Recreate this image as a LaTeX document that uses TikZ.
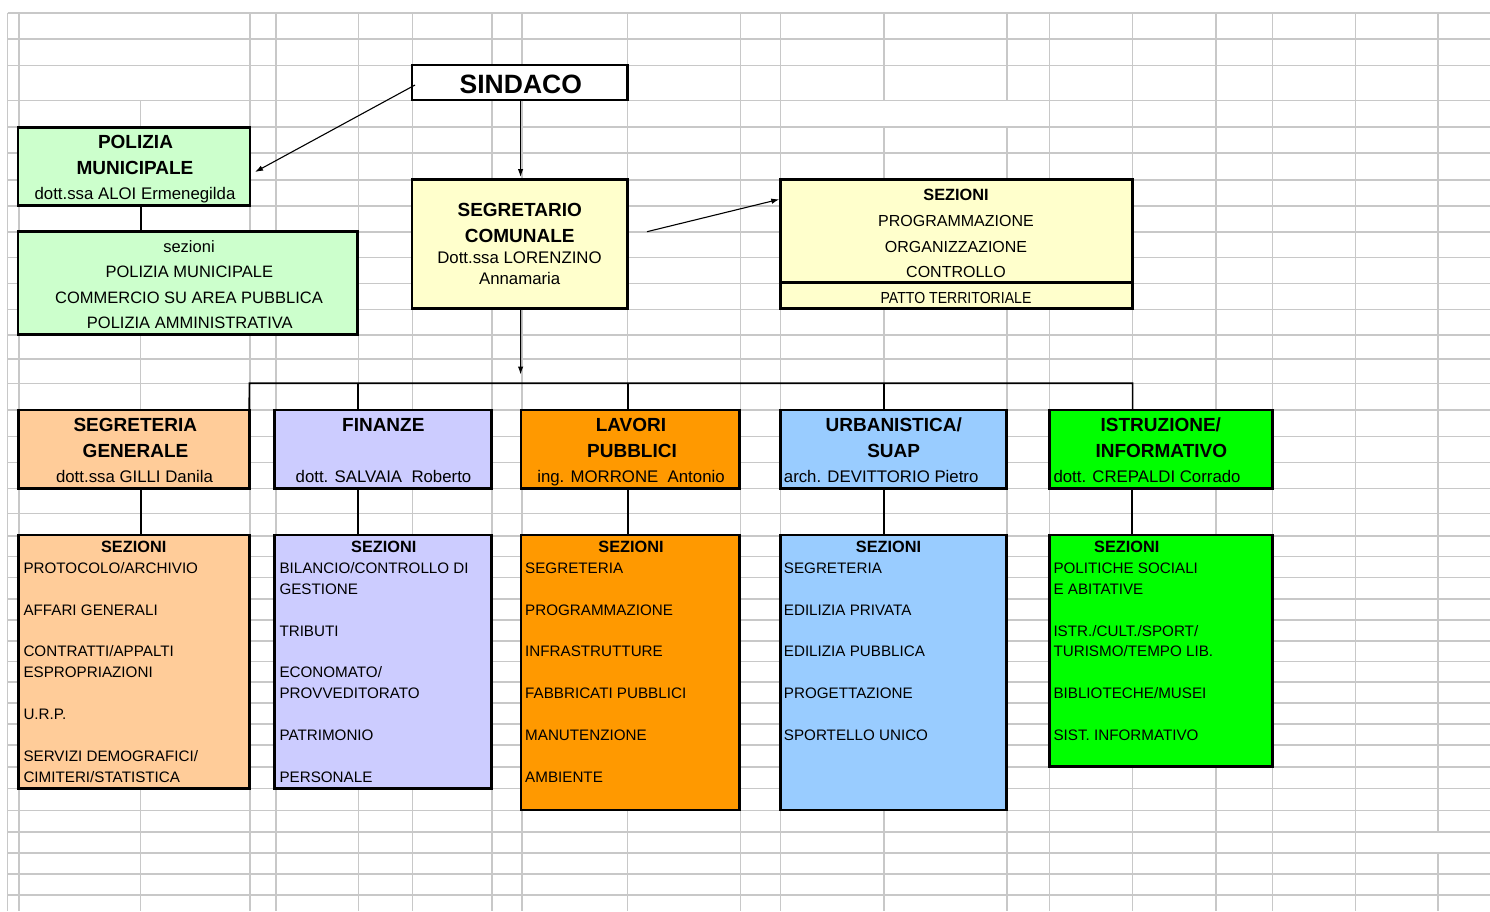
\documentclass[tikz,border=0pt]{standalone}
\usepackage{fontspec}
\setmainfont{Liberation Sans}
\usetikzlibrary{arrows.meta,calc}
\definecolor{gridc}{RGB}{200,200,200}
\definecolor{cPol}{HTML}{CCFFCC}
\definecolor{cYel}{HTML}{FFFFCC}
\definecolor{cSeg}{HTML}{FFCC99}
\definecolor{cFin}{HTML}{CCCCFF}
\definecolor{cLav}{HTML}{FF9900}
\definecolor{cUrb}{HTML}{99CCFF}
\definecolor{cIst}{HTML}{00FF00}
\newcommand{\fSin}{\fontsize{26.5}{30}\selectfont\bfseries}
\newcommand{\fTit}{\fontsize{19}{22}\selectfont\bfseries}
\newcommand{\fNam}{\fontsize{16.8}{20}\selectfont}
\newcommand{\fPol}{\fontsize{16.5}{20}\selectfont}
\newcommand{\fHd}{\fontsize{16.3}{19}\selectfont\bfseries}
\newcommand{\fRt}{\fontsize{16}{19}\selectfont}
\newcommand{\fIt}{\fontsize{15.2}{18}\selectfont}
\newcommand{\itm}[4]{\node[tl,font=\fIt] (#1) at (#2,{573.3+20.9*#3}) {#4};}
\begin{document}
\begin{tikzpicture}[x=1pt,y=-1pt,
  gridl/.style={draw=gridc, line width=1.4pt},
  box/.style={draw=black, line width=2.5pt, rectangle, inner sep=0pt, outer sep=0pt},
  conn/.style={draw=black, line width=1.7pt},
  arr/.style={draw=black, line width=1.1pt, -{Latex[length=8pt,width=5.5pt]}},
  tc/.style={inner sep=0pt, anchor=base},
  tl/.style={inner sep=0pt, anchor=base west}]
\useasboundingbox (0,0) rectangle (1490,911);
\fill[white] (0,0) rectangle (1490,911);
% spreadsheet grid
\foreach \y in {12.8,39,65.7,100.3,127,153,180,206,232,257.5,283.5,309.5,335,359,383.5,410,436.7,462.5,488.3,513.5,536,556.5,577.5,599,620,641,661.7,682,703,724,745,767,788.5,810.7,832,853,874,895}
  \draw[gridl] (7.5,\y) -- (1490,\y);
\foreach \x in {7.5,19,250,276,358.3,412.5,492,521.8,627.7,740.3,780.7,1049.5,1132.3,1216,1272.3,1355.2}
  \draw[gridl] (\x,12.8) -- (\x,911);
\draw[gridl] (140.7,100.3) -- (140.7,911);
\foreach \x in {884,1007} {\draw[gridl] (\x,12.8) -- (\x,100.3); \draw[gridl] (\x,127) -- (\x,911);}
\draw[gridl] (1437.8,12.8) -- (1437.8,832);
\draw[gridl] (1437.8,853) -- (1437.8,911);

% boxes
\node[box, fill=white, minimum width=215.5pt, minimum height=35pt] (sindaco) at (519.75,82.5) {};
\node[box, fill=cPol, minimum width=232pt, minimum height=78.4pt] (polizia) at (134,166.5) {};
\node[box, fill=cPol, minimum width=339.3pt, minimum height=102.6pt] (polsez) at (187.65,283) {};
\node[box, fill=cYel, minimum width=215.5pt, minimum height=128.8pt] (segretario) at (519.75,243.9) {};
\node[box, fill=cYel, minimum width=352pt, minimum height=128.8pt] (sezR) at (956.5,243.9) {};
\coordinate (dv) at (0,282.5);
\draw[line width=2.5pt] (sezR.west |- dv) -- (sezR.east |- dv);

\node[box, fill=cSeg, minimum width=231pt, minimum height=78.3pt] (dSeg) at (133.8,449.15) {};
\node[box, fill=cFin, minimum width=217.2pt, minimum height=78.3pt] (dFin) at (383.1,449.15) {};
\node[box, fill=cLav, minimum width=218.3pt, minimum height=78.3pt] (dLav) at (630.15,449.15) {};
\node[box, fill=cUrb, minimum width=225.8pt, minimum height=78.3pt] (dUrb) at (893.6,449.15) {};
\node[box, fill=cIst, minimum width=223pt, minimum height=78.3pt] (dIst) at (1160.8,449.15) {};

\node[box, fill=cSeg, minimum width=231pt, minimum height=253.3pt] (sSeg) at (133.8,661.65) {};
\node[box, fill=cFin, minimum width=217.2pt, minimum height=253.3pt] (sFin) at (383.1,661.65) {};
\node[box, fill=cLav, minimum width=218.3pt, minimum height=275pt] (sLav) at (630.15,672.5) {};
\node[box, fill=cUrb, minimum width=225.8pt, minimum height=275pt] (sUrb) at (893.6,672.5) {};
\node[box, fill=cIst, minimum width=223pt, minimum height=231.7pt] (sIst) at (1160.8,650.85) {};

% connectors
\coordinate (a1e) at (255,172);
\draw[arr] ([shift={(3pt,-2.5pt)}]sindaco.west) -- (a1e);
\draw[arr, shorten >=2.5pt] ([xshift=0.8pt]sindaco.south) -- ([xshift=0.8pt]segretario.north);
\coordinate (a3s) at (647,231.7);
\coordinate (a3e) at (779.3,199.3);
\draw[arr] (a3s) -- (a3e);
\coordinate (a4e) at (520.6,374.5);
\draw[arr] ([xshift=0.8pt]segretario.south) -- (a4e);
\coordinate (bL) at (249.4,383.3);
\coordinate (bR) at (1132.6,383.3);
\draw[conn] (dSeg.north east) -- (bL) -- (bR) -- (bR |- dIst.north);
\coordinate (jFin) at (358,383.3);
\coordinate (jLav) at (627.8,383.3);
\coordinate (jUrb) at (884,383.3);
\draw[conn] (jFin) -- (jFin |- dFin.north);
\draw[conn] (jLav) -- (jLav |- dLav.north);
\draw[conn] (jUrb) -- (jUrb |- dUrb.north);
\coordinate (kPol) at (140.7,0);
\coordinate (kSeg) at (140.7,0);
\coordinate (kFin) at (358.2,0);
\coordinate (kLav) at (627.8,0);
\coordinate (kUrb) at (884,0);
\coordinate (kIst) at (1132,0);
\draw[conn] (kPol |- polizia.south) -- (kPol |- polsez.north);
\draw[conn] (kSeg |- dSeg.south) -- (kSeg |- sSeg.north);
\draw[conn] (kFin |- dFin.south) -- (kFin |- sFin.north);
\draw[conn] (kLav |- dLav.south) -- (kLav |- sLav.north);
\draw[conn] (kUrb |- dUrb.south) -- (kUrb |- sUrb.north);
\draw[conn] (kIst |- dIst.south) -- (kIst |- sIst.north);

% texts top
\node[tc, font=\fSin] (tSin) at (520.8,93.3) {SINDACO};
\node[tc, font=\fTit] (tPol1) at (135.5,148.3) {POLIZIA};
\node[tc, font=\fTit] (tPol2) at (135,174) {MUNICIPALE};
\node[tc, font=\fNam] (tPol3) at (135,199) {dott.ssa ALOI Ermenegilda};
\node[tc, font=\fPol] (tPs1) at (189,252.3) {sezioni};
\node[tc, font=\fPol] (tPs2) at (189.3,277.3) {POLIZIA MUNICIPALE};
\node[tc, font=\fPol] (tPs3) at (189,303.3) {COMMERCIO SU AREA PUBBLICA};
\node[tc, font=\fPol] (tPs4) at (189.8,328.3) {POLIZIA AMMINISTRATIVA};
\node[tc, font=\fTit] (tSg1) at (519.7,216) {SEGRETARIO};
\node[tc, font=\fTit] (tSg2) at (519.7,242) {COMUNALE};
\node[tc, font=\fNam] (tSg3) at (519.5,263.3) {Dott.ssa LORENZINO};
\node[tc, font=\fNam] (tSg4) at (519.7,284) {Annamaria};
\node[tc, font=\fHd] (tR0) at (956,200) {SEZIONI};
\node[tc, font=\fRt] (tR1) at (956,226) {PROGRAMMAZIONE};
\node[tc, font=\fRt] (tR2) at (956,252.7) {ORGANIZZAZIONE};
\node[tc, font=\fRt] (tR3) at (956,277.3) {CONTROLLO};
\node[tc, font=\fRt, xscale=0.88] (tR4) at (956,303.3) {PATTO TERRITORIALE};

% department titles
\node[tc, font=\fTit] (tD1a) at (135.3,431.7) {SEGRETERIA};
\node[tc, font=\fTit] (tD1b) at (135.5,457.3) {GENERALE};
\node[tc, font=\fNam] (tD1c) at (134.5,482.3) {dott.ssa GILLI Danila};
\node[tc, font=\fTit] (tD2a) at (383.3,431.7) {FINANZE};
\node[tc, font=\fNam] (tD2c) at (383.5,482.3) {dott. SALVAIA~ Roberto};
\node[tc, font=\fTit] (tD3a) at (631,431.7) {LAVORI};
\node[tc, font=\fTit] (tD3b) at (632,457.3) {PUBBLICI};
\node[tc, font=\fNam] (tD3c) at (631,482.3) {ing. MORRONE~ Antonio};
\node[tc, font=\fTit] (tD4a) at (893.7,431.7) {URBANISTICA/};
\node[tc, font=\fTit] (tD4b) at (893.7,457.3) {SUAP};
\node[tl, font=\fNam] (tD4c) at (783.7,482.3) {arch. DEVITTORIO Pietro};
\node[tc, font=\fTit] (tD5a) at (1160.8,431.7) {ISTRUZIONE/};
\node[tc, font=\fTit] (tD5b) at (1161.3,457.3) {INFORMATIVO};
\node[tl, font=\fNam] (tD5c) at (1053.3,482.3) {dott. CREPALDI Corrado};

% section headers
\node[tc, font=\fHd] (hSeg) at (133.7,552.7) {SEZIONI};
\node[tc, font=\fHd] (hFin) at (383.8,552.7) {SEZIONI};
\node[tc, font=\fHd] (hLav) at (631,552.7) {SEZIONI};
\node[tc, font=\fHd] (hUrb) at (888.5,552.7) {SEZIONI};
\node[tc, font=\fHd] (hIst) at (1126.8,552.7) {SEZIONI};

% section items
\itm{seg0}{23.3}{0}{PROTOCOLO/ARCHIVIO}
\itm{seg2}{23.3}{2}{AFFARI GENERALI}
\itm{seg4}{23.3}{4}{CONTRATTI/APPALTI}
\itm{seg5}{23.3}{5}{ESPROPRIAZIONI}
\itm{seg7}{23.3}{7}{U.R.P.}
\itm{seg9}{23.3}{9}{SERVIZI DEMOGRAFICI/}
\itm{seg10}{23.3}{10}{CIMITERI/STATISTICA}

\itm{fin0}{279.3}{0}{BILANCIO/CONTROLLO DI}
\itm{fin1}{279.3}{1}{GESTIONE}
\itm{fin3}{279.3}{3}{TRIBUTI}
\itm{fin5}{279.3}{5}{ECONOMATO/}
\itm{fin6}{279.3}{6}{PROVVEDITORATO}
\itm{fin8}{279.3}{8}{PATRIMONIO}
\itm{fin10}{279.3}{10}{PERSONALE}

\itm{lav0}{525}{0}{SEGRETERIA}
\itm{lav2}{525}{2}{PROGRAMMAZIONE}
\itm{lav4}{525}{4}{INFRASTRUTTURE}
\itm{lav6}{525}{6}{FABBRICATI PUBBLICI}
\itm{lav8}{525}{8}{MANUTENZIONE}
\itm{lav10}{525}{10}{AMBIENTE}

\itm{urb0}{783.7}{0}{SEGRETERIA}
\itm{urb2}{783.7}{2}{EDILIZIA PRIVATA}
\itm{urb4}{783.7}{4}{EDILIZIA PUBBLICA}
\itm{urb6}{783.7}{6}{PROGETTAZIONE}
\itm{urb8}{783.7}{8}{SPORTELLO UNICO}

\itm{ist0}{1053.3}{0}{POLITICHE SOCIALI}
\itm{ist1}{1053.3}{1}{E ABITATIVE}
\itm{ist3}{1053.3}{3}{ISTR./CULT./SPORT/}
\itm{ist4}{1053.3}{4}{TURISMO/TEMPO LIB.}
\itm{ist6}{1053.3}{6}{BIBLIOTECHE/MUSEI}
\itm{ist8}{1053.3}{8}{SIST. INFORMATIVO}
\end{tikzpicture}
\end{document}
